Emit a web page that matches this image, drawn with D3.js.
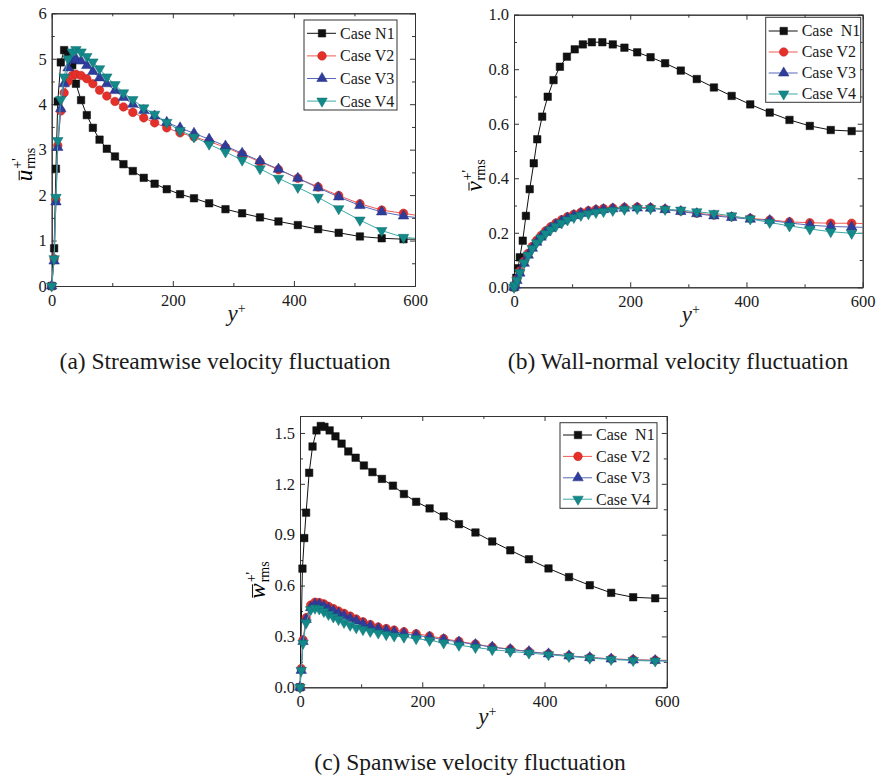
<!DOCTYPE html>
<html>
<head>
<meta charset="utf-8">
<script src="https://cdn.jsdelivr.net/npm/d3@7"></script>
<style>
  html, body { margin: 0; padding: 0; background: #fff; }
  svg { display: block; font-family: "Liberation Serif", "Times New Roman", serif; }
  .tick text { font-size: 16.5px; fill: #1a1a1a; font-family: "Liberation Serif", serif; }
  .tick line { stroke: #333; }
  .domain { stroke: #333; }
</style>
</head>
<body>
<svg id="chart" width="882" height="776"></svg>
<script>
// wall distance grids (y+)
const yPlusN1 = [0, 4, 7, 10, 15, 20.5, 27, 34, 40, 48.5, 58, 68, 79, 91, 104.5, 118.5, 134, 152, 170, 190,
  212, 235, 260, 287, 314.5, 344, 374.5, 406.5, 440, 474, 509, 545, 581, 600];
const yPlusV = [0, 2, 5, 10, 17.5, 24.5, 31.5, 39, 46.5, 54.5, 63, 72, 82, 92, 103, 115, 128, 141, 154, 170,
  190, 212, 235, 260, 287, 314.5, 344, 374.5, 406.5, 440, 474, 509, 545, 581, 600];

// (a) streamwise
const uN1 = [0, 0.83, 2.58, 4.06, 4.92, 5.19, 5.08, 4.86, 4.45, 4.09, 3.76, 3.48, 3.22, 3.02, 2.85, 2.68, 2.53,
  2.38, 2.25, 2.13, 2.02, 1.93, 1.82, 1.69, 1.60, 1.51, 1.42, 1.34, 1.25, 1.17, 1.09, 1.05, 1.03, 1.03];
const uV2 = [0, 0.6, 1.9, 3.09, 3.85, 4.25, 4.5, 4.63, 4.66, 4.63, 4.56, 4.45, 4.31, 4.18, 4.06, 3.94, 3.82,
  3.70, 3.59, 3.48, 3.37, 3.28, 3.18, 3.05, 2.90, 2.73, 2.56, 2.37, 2.18, 1.99, 1.81, 1.67, 1.60, 1.56];
const uV3 = [0, 0.55, 1.85, 3.05, 3.9, 4.45, 4.8, 4.97, 5.0, 4.95, 4.85, 4.72, 4.58, 4.45, 4.3, 4.15, 4.0,
  3.86, 3.74, 3.6, 3.48, 3.36, 3.23, 3.08, 2.92, 2.75, 2.57, 2.37, 2.16, 1.96, 1.77, 1.63, 1.54, 1.51];
const uV4 = [0, 0.6, 1.95, 3.2, 4.1, 4.6, 5.0, 5.15, 5.2, 5.15, 5.05, 4.93, 4.78, 4.6, 4.43, 4.25, 4.1,
  3.92, 3.78, 3.6, 3.42, 3.28, 3.12, 2.95, 2.77, 2.58, 2.37, 2.17, 1.95, 1.70, 1.45, 1.22, 1.07, 1.05];

// (b) wall-normal
const vN1 = [0, 0.035, 0.07, 0.11, 0.171, 0.262, 0.36, 0.455, 0.543, 0.626, 0.699, 0.760, 0.809, 0.846, 0.873,
  0.891, 0.899, 0.899, 0.891, 0.879, 0.862, 0.844, 0.822, 0.795, 0.764, 0.733, 0.702, 0.671, 0.641, 0.614,
  0.592, 0.577, 0.573, 0.573];
const vV2 = [0, 0.01, 0.03, 0.06, 0.095, 0.125, 0.15, 0.172, 0.19, 0.207, 0.222, 0.236, 0.248, 0.259, 0.268,
  0.275, 0.281, 0.285, 0.289, 0.291, 0.293, 0.294, 0.292, 0.287, 0.280, 0.272, 0.265, 0.259, 0.253, 0.247,
  0.240, 0.237, 0.235, 0.235, 0.234];
const vV3 = [0, 0.008, 0.025, 0.052, 0.088, 0.118, 0.143, 0.165, 0.184, 0.201, 0.216, 0.23, 0.243, 0.254, 0.263,
  0.271, 0.277, 0.282, 0.285, 0.288, 0.29, 0.291, 0.29, 0.285, 0.278, 0.27, 0.262, 0.256, 0.25, 0.245,
  0.236, 0.228, 0.223, 0.221, 0.22];
const vV4 = [0, 0.008, 0.026, 0.054, 0.09, 0.118, 0.142, 0.163, 0.181, 0.197, 0.211, 0.224, 0.236, 0.247, 0.256,
  0.264, 0.27, 0.275, 0.278, 0.282, 0.286, 0.289, 0.289, 0.286, 0.283, 0.277, 0.271, 0.262, 0.251, 0.238,
  0.225, 0.214, 0.204, 0.198, 0.197];

// (c) spanwise
const wN1 = [0, 0.70, 0.88, 1.03, 1.265, 1.42, 1.515, 1.541, 1.536, 1.515, 1.48, 1.437, 1.391, 1.354, 1.308,
  1.269, 1.229, 1.189, 1.14, 1.094, 1.055, 1.008, 0.962, 0.913, 0.86, 0.808, 0.755, 0.701, 0.65, 0.602,
  0.557, 0.531, 0.525, 0.525];
const wV2 = [0, 0.11, 0.28, 0.41, 0.485, 0.502, 0.5, 0.492, 0.478, 0.464, 0.45, 0.436, 0.42, 0.403, 0.386,
  0.37, 0.356, 0.346, 0.337, 0.328, 0.316, 0.303, 0.287, 0.271, 0.255, 0.238, 0.225, 0.211, 0.198, 0.186,
  0.176, 0.168, 0.163, 0.16, 0.159];
const wV3 = [0, 0.1, 0.27, 0.4, 0.47, 0.49, 0.488, 0.478, 0.464, 0.45, 0.436, 0.422, 0.406, 0.391, 0.375,
  0.36, 0.346, 0.336, 0.327, 0.318, 0.307, 0.295, 0.281, 0.267, 0.252, 0.237, 0.223, 0.21, 0.197, 0.185,
  0.175, 0.167, 0.161, 0.158, 0.157];
const wV4 = [0, 0.1, 0.26, 0.38, 0.458, 0.467, 0.462, 0.447, 0.43, 0.415, 0.4, 0.382, 0.366, 0.351, 0.34,
  0.33, 0.32, 0.311, 0.303, 0.296, 0.287, 0.277, 0.262, 0.248, 0.235, 0.222, 0.212, 0.202, 0.192, 0.182,
  0.172, 0.164, 0.158, 0.155, 0.154];

const casesA = ["Case N1", "Case V2", "Case V3", "Case V4"];
const casesBC = ["Case  N1", "Case V2", "Case V3", "Case V4"];
const xTicks = [0, 200, 400, 600];
const xMinor = [100, 300, 500];

const styles = [
  { sym: d3.symbolSquare, size: 56, fill: "#111", line: "#111", rot: 0 },
  { sym: d3.symbolCircle, size: 58, fill: "#e5302a", line: "#ef5b52", rot: 0 },
  { sym: d3.symbolTriangle, size: 48, fill: "#2e3c9c", line: "#5868bb", rot: 0 },
  { sym: d3.symbolTriangle, size: 48, fill: "#13898a", line: "#3caaa4", rot: 180 }
];

const svg = d3.select("#chart");

const panels = [
  {
    left: 51.7, right: 415, top: 13.3, bottom: 286, yMax: 6,
    yTicks: [0, 1, 2, 3, 4, 5, 6], yMinor: [0.5, 1.5, 2.5, 3.5, 4.5, 5.5], fmt: d3.format("d"),
    series: [[yPlusN1, uN1], [yPlusN1, uV2], [yPlusN1, uV3], [yPlusN1, uV4]],
    legend: { x: 304, y: 20, w: 93, h: 90, dy: 22.6, off: 13.3, names: casesA },
    letter: "u", labX: 31.7, labY: 164.5, xlabX: 227.5, xlabY: 321,
    caption: "(a) Streamwise velocity fluctuation", capX: 225, capY: 368.5
  },
  {
    left: 514, right: 862.7, top: 14.7, bottom: 287.3, yMax: 1.0,
    yTicks: [0, 0.2, 0.4, 0.6, 0.8, 1.0], yMinor: [0.1, 0.3, 0.5, 0.7, 0.9], fmt: d3.format(".1f"),
    series: [[yPlusN1, vN1], [yPlusV, vV2], [yPlusV, vV3], [yPlusV, vV4]],
    legend: { x: 765.7, y: 17.3, w: 95, h: 85, dy: 21, off: 13.7, names: casesBC },
    letter: "v", labX: 481.5, labY: 175.5, xlabX: 681.7, xlabY: 322,
    caption: "(b) Wall-normal velocity fluctuation", capX: 678, capY: 368.5
  },
  {
    left: 300, right: 666.8, top: 416, bottom: 687.3, yMax: 1.6,
    yTicks: [0, 0.3, 0.6, 0.9, 1.2, 1.5], yMinor: [0.15, 0.45, 0.75, 1.05, 1.35], fmt: d3.format(".1f"),
    series: [[yPlusN1, wN1], [yPlusV, wV2], [yPlusV, wV3], [yPlusV, wV4]],
    legend: { x: 560, y: 422.7, w: 97, h: 85.6, dy: 21.4, off: 12.3, names: casesBC },
    letter: "w", labX: 265, labY: 580, xlabX: 478.3, xlabY: 724,
    caption: "(c) Spanwise velocity fluctuation", capX: 470, capY: 770
  }
];

function marker(g, st, cx, cy) {
  g.append("path")
    .attr("d", d3.symbol(st.sym, st.size)())
    .attr("transform", `translate(${cx},${cy}) rotate(${st.rot})`)
    .attr("fill", st.fill)
    .attr("stroke", d3.color(st.fill).darker(0.6))
    .attr("stroke-width", 0.5);
}

function drawPanel(p) {
  const x = d3.scaleLinear().domain([0, 600]).range([p.left, p.right]);
  const y = d3.scaleLinear().domain([0, p.yMax]).range([p.bottom, p.top]);
  const g = svg.append("g");

  // axes: ticks point inward on all four sides
  const major = 5, minor = 3;
  g.append("g").attr("transform", `translate(0,${p.bottom})`)
    .call(d3.axisBottom(x).tickValues(xTicks).tickSizeInner(-major).tickSizeOuter(0).tickPadding(8));
  g.append("g").attr("transform", `translate(0,${p.bottom})`)
    .call(d3.axisBottom(x).tickValues(xMinor).tickSizeInner(-minor).tickSizeOuter(0).tickFormat(""));
  g.append("g").attr("transform", `translate(${p.left},0)`)
    .call(d3.axisLeft(y).tickValues(p.yTicks).tickSizeInner(-major).tickSizeOuter(0).tickPadding(5).tickFormat(p.fmt));
  g.append("g").attr("transform", `translate(${p.left},0)`)
    .call(d3.axisLeft(y).tickValues(p.yMinor).tickSizeInner(-minor).tickSizeOuter(0).tickFormat(""));
  g.append("g").attr("transform", `translate(0,${p.top})`)
    .call(d3.axisTop(x).tickValues(xTicks).tickSizeInner(-major).tickSizeOuter(0).tickFormat(""));
  g.append("g").attr("transform", `translate(0,${p.top})`)
    .call(d3.axisTop(x).tickValues(xMinor).tickSizeInner(-minor).tickSizeOuter(0).tickFormat(""));
  g.append("g").attr("transform", `translate(${p.right},0)`)
    .call(d3.axisRight(y).tickValues(p.yTicks).tickSizeInner(-major).tickSizeOuter(0).tickFormat(""));
  g.append("g").attr("transform", `translate(${p.right},0)`)
    .call(d3.axisRight(y).tickValues(p.yMinor).tickSizeInner(-minor).tickSizeOuter(0).tickFormat(""));

  // series: line then markers (last point at y+=600 carries no marker)
  const line = d3.line().x(d => x(d[0])).y(d => y(d[1]));
  p.series.forEach((s, i) => {
    const st = styles[i];
    const pts = s[0].map((xv, k) => [xv, s[1][k]]);
    g.append("path").datum(pts)
      .attr("d", line)
      .attr("fill", "none")
      .attr("stroke", st.line)
      .attr("stroke-width", 1);
    const mg = g.append("g");
    pts.slice(0, -1).forEach(d => marker(mg, st, x(d[0]), y(d[1])));
  });

  // legend
  const L = p.legend;
  const lg = g.append("g");
  lg.append("rect").attr("x", L.x).attr("y", L.y).attr("width", L.w).attr("height", L.h)
    .attr("fill", "#fff").attr("stroke", "#333").attr("stroke-width", 1);
  L.names.forEach((name, i) => {
    const st = styles[i];
    const cy = L.y + L.off + i * L.dy;
    lg.append("line").attr("x1", L.x + 3).attr("x2", L.x + 32).attr("y1", cy).attr("y2", cy)
      .attr("stroke", st.line).attr("stroke-width", 1);
    marker(lg, st, L.x + 18, cy);
    lg.append("text").attr("x", L.x + 36).attr("y", cy).attr("dy", "0.34em")
      .attr("font-size", 16).style("white-space", "pre").attr("fill", "#1a1a1a").text(name);
  });

  // y-axis label: overlined letter with +' superscript and rms subscript
  const yl = g.append("g").attr("transform", `translate(${p.labX},${p.labY}) rotate(-90)`);
  const main = yl.append("text").attr("font-style", "italic").attr("font-size", 23).text(p.letter);
  const w = main.node().getComputedTextLength();
  const sup = yl.append("text").attr("x", w + 1).attr("y", -9.5).attr("font-size", 14).text("+'");
  const sub = yl.append("text").attr("x", w + 1).attr("y", 3.5).attr("font-size", 14).text("rms");
  const total = w + 1 + Math.max(sup.node().getComputedTextLength(), sub.node().getComputedTextLength());
  yl.selectAll("text").attr("dx", -total / 2);
  yl.append("line").attr("x1", -total / 2 + 1).attr("x2", -total / 2 + w - 1)
    .attr("y1", -12.5).attr("y2", -12.5).attr("stroke", "#1a1a1a").attr("stroke-width", 1.1);

  // x-axis label
  const xl = g.append("text").attr("x", p.xlabX).attr("y", p.xlabY).attr("fill", "#1a1a1a");
  xl.append("tspan").attr("font-style", "italic").attr("font-size", 23).text("y");
  xl.append("tspan").attr("font-size", 14).attr("dy", -8).text("+");

  // caption
  g.append("text").attr("x", p.capX).attr("y", p.capY).attr("text-anchor", "middle")
    .attr("font-size", 23.5).attr("fill", "#1a1a1a").text(p.caption);
}

panels.forEach(drawPanel);
</script>
</body>
</html>
